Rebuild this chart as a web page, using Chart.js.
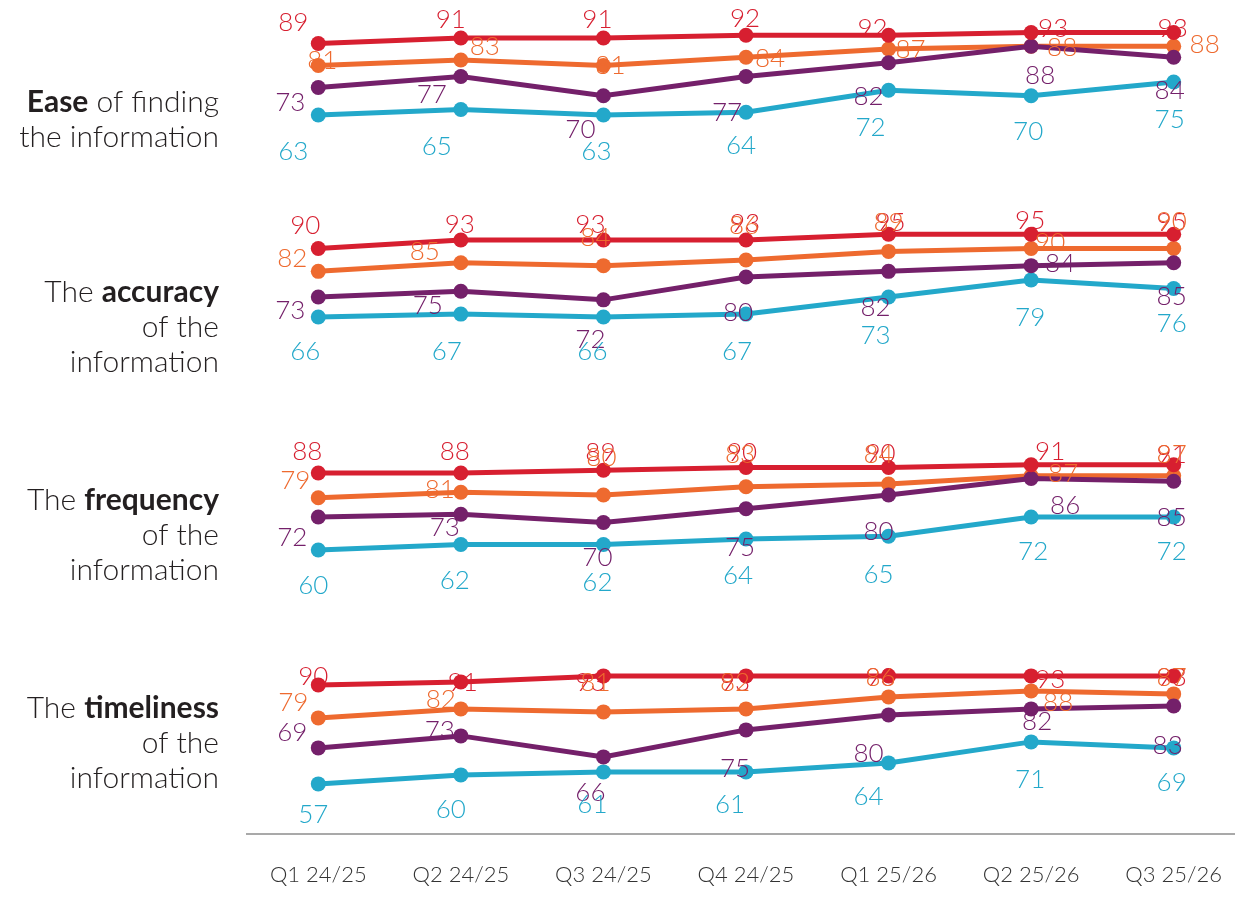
<!DOCTYPE html>
<html>
<head>
<meta charset="utf-8">
<script src="https://cdn.jsdelivr.net/npm/chart.js@4.4.1/dist/chart.umd.min.js"></script>
<style>
  html, body { margin: 0; padding: 0; background: #ffffff; }
  #wrap { width: 1235px; height: 906px; position: relative; }
</style>
</head>
<body>
<div id="wrap"><canvas id="chart" width="1235" height="906"></canvas></div>
<script>
// ---------------- DATA ----------------
const categories = ['Q1 24/25', 'Q2 24/25', 'Q3 24/25', 'Q4 24/25', 'Q1 25/26', 'Q2 25/26', 'Q3 25/26'];

// Panel titles: each line is a list of [text, isBold]
const titleEase       = [[['Ease', true], [' of finding', false]], [['the information', false]]];
const titleAccuracy   = [[['The ', false], ['accuracy', true]], [['of the', false]], [['information', false]]];
const titleFrequency  = [[['The ', false], ['frequency', true]], [['of the', false]], [['information', false]]];
const titleTimeliness = [[['The ', false], ['timeliness', true]], [['of the', false]], [['information', false]]];

// Ease of finding the information
const easeRed    = [89, 91, 91, 92, 92, 93, 93];
const easeOrange = [81, 83, 81, 84, 87, 88, 88];
const easePurple = [73, 77, 70, 77, 82, 88, 84];
const easeTeal   = [63, 65, 63, 64, 72, 70, 75];

// The accuracy of the information
const accuracyRed    = [90, 93, 93, 93, 95, 95, 95];
const accuracyOrange = [82, 85, 84, 86, 89, 90, 90];
const accuracyPurple = [73, 75, 72, 80, 82, 84, 85];
const accuracyTeal   = [66, 67, 66, 67, 73, 79, 76];

// The frequency of the information
const frequencyRed    = [88, 88, 89, 90, 90, 91, 91];
const frequencyOrange = [79, 81, 80, 83, 84, 87, 87];
const frequencyPurple = [72, 73, 70, 75, 80, 86, 85];
const frequencyTeal   = [60, 62, 62, 64, 65, 72, 72];

// The timeliness of the information
const timelinessRed    = [90, 91, 93, 93, 93, 93, 93];
const timelinessOrange = [79, 82, 81, 82, 86, 88, 87];
const timelinessPurple = [69, 73, 66, 75, 80, 82, 83];
const timelinessTeal   = [57, 60, 61, 61, 64, 71, 69];

// ---------------- STYLE ----------------
const seriesColors = ['#D71F30', '#EE6A2F', '#74206A', '#23A8CA'];
const seriesOrder  = [0, 2, 1, 3];

// Data-label nudges (dx, dy in px from each point), per panel, per series [red, orange, purple, teal]
const labelNudgeEase = [
  [[-25,-21],[-10,-18],[-6,-18],[-1,-17],[-16,-7],[22,-4],[-1,-4]],
  [[4,-5],[24,-13],[7,0],[24,1],[22,1],[31,1],[31,-2]],
  [[-28,15],[-29,18],[-23,34],[-19,36],[-20,34],[9,29],[-4,33]],
  [[-25,37],[-24,37],[-7,37],[-5,33],[-18,37],[-3,36],[-4,38]]
];
const labelNudgeAccuracy = [
  [[-13,-23],[-1,-15],[-13,-15],[-1,-16],[2,-12],[-1,-14],[-2,-12]],
  [[-26,-13],[-36,-11],[-8,-28],[-2,-34],[0,-29],[19,-6],[-2,-27]],
  [[-28,14],[-33,14],[-13,40],[-8,36],[-13,36],[29,-2],[-2,34]],
  [[-13,35],[-14,38],[-11,35],[-9,38],[-13,39],[-1,38],[-2,35]]
];
const labelNudgeFrequency = [
  [[-11,-21],[-6,-21],[-3,-18],[-4,-15],[-8,-14],[19,-13],[-2,-10]],
  [[-23,-17],[-21,-3],[-2,-37],[-6,-32],[-10,-29],[32,-2],[-2,-21]],
  [[-26,21],[-16,13],[-6,35],[-6,39],[-10,37],[34,27],[-2,36]],
  [[-5,36],[-6,36],[-6,38],[-8,37],[-10,38],[2,35],[-2,35]]
];
const labelNudgeTimeliness = [
  [[-5,-8],[2,1],[-13,7],[-11,7],[-8,2],[19,4],[-2,2]],
  [[-25,-15],[-20,-9],[-8,-29],[-11,-26],[-8,-19],[27,12],[-2,-16]],
  [[-26,-15],[-21,-5],[-13,36],[-11,39],[-20,39],[6,13],[-6,40]],
  [[-5,31],[-10,35],[-11,33],[-16,33],[-20,34],[-1,38],[-2,35]]
];

const panels = [
  { id: 'yEase',       title: titleEase,       series: [easeRed, easeOrange, easePurple, easeTeal],
    min: 33.9, max: 103.0, stackWeight: 190, layoutWeight: 4, titleShift: 20, nudge: labelNudgeEase },
  { id: 'yAccuracy',   title: titleAccuracy,   series: [accuracyRed, accuracyOrange, accuracyPurple, accuracyTeal],
    min: 35.1, max: 108.8, stackWeight: 210, layoutWeight: 3, titleShift: 27, nudge: labelNudgeAccuracy },
  { id: 'yFrequency',  title: titleFrequency,  series: [frequencyRed, frequencyOrange, frequencyPurple, frequencyTeal],
    min: 36.4, max: 112.7, stackWeight: 210, layoutWeight: 2, titleShift: 25, nudge: labelNudgeFrequency },
  { id: 'yTimeliness', title: titleTimeliness, series: [timelinessRed, timelinessOrange, timelinessPurple, timelinessTeal],
    min: 40.3, max: 113.3, stackWeight: 219, layoutWeight: 1, titleShift: 19, nudge: labelNudgeTimeliness }
];

const FONT = 'Lato, "Open Sans", sans-serif';

// ---------------- DATASETS / SCALES ----------------
const datasets = [];
panels.forEach((p) => {
  p.series.forEach((values, s) => {
    datasets.push({
      data: values.map((v, i) => ({ x: i, y: v })),
      yAxisID: p.id,
      borderColor: seriesColors[s],
      backgroundColor: seriesColors[s],
      pointBackgroundColor: seriesColors[s],
      pointBorderWidth: 0,
      pointRadius: 7.5,
      pointHoverRadius: 7.5,
      borderWidth: 5,
      tension: 0,
      fill: false,
      order: seriesOrder[s],
      labelColor: seriesColors[s],
      labelNudge: p.nudge[s]
    });
  });
});

const scales = {
  x: {
    type: 'linear',
    position: 'bottom',
    min: -0.5,
    max: 6.43,
    afterBuildTicks: (axis) => { axis.ticks = categories.map((_, i) => ({ value: i })); },
    afterFit: (axis) => { axis.height = 72; },
    ticks: {
      autoSkip: false,
      maxRotation: 0,
      padding: 0,
      color: '#333333',
      font: { family: FONT, size: 22, weight: '300' },
      callback: (v) => categories[v]
    },
    grid: { display: false, drawTicks: true, tickLength: 28 },
    border: { display: true, color: '#A9A9A9', width: 2 }
  }
};
panels.forEach((p) => {
  scales[p.id] = {
    type: 'linear',
    position: 'left',
    stack: 'panels',
    stackWeight: p.stackWeight,
    weight: p.layoutWeight,
    min: p.min,
    max: p.max,
    display: false
  };
});

// ---------------- PLUGINS ----------------
const valueLabels = {
  id: 'valueLabels',
  afterDatasetsDraw(chart) {
    const ctx = chart.ctx;
    ctx.save();
    ctx.font = '300 26px ' + FONT;
    ctx.textAlign = 'center';
    ctx.textBaseline = 'middle';
    chart.data.datasets.forEach((ds, di) => {
      const meta = chart.getDatasetMeta(di);
      ctx.fillStyle = ds.labelColor;
      meta.data.forEach((pt, i) => {
        const n = ds.labelNudge[i];
        ctx.fillText(String(ds.data[i].y), pt.x + n[0], pt.y + n[1]);
      });
    });
    ctx.restore();
  }
};

const panelTitles = {
  id: 'panelTitles',
  afterDraw(chart) {
    const ctx = chart.ctx;
    const rightX = 219;
    const lineH = 35;
    ctx.save();
    ctx.fillStyle = '#231F20';
    ctx.textBaseline = 'middle';
    ctx.textAlign = 'left';
    panels.forEach((p) => {
      const sc = chart.scales[p.id];
      const cy = (sc.top + sc.bottom) / 2 + p.titleShift;
      const y0 = cy - (p.title.length - 1) * lineH / 2;
      p.title.forEach((line, li) => {
        const parts = line.map(([t, b]) => {
          ctx.font = (b ? '700 ' : '300 ') + '30px ' + FONT;
          return { t, b, w: ctx.measureText(t).width };
        });
        const total = parts.reduce((a, q) => a + q.w, 0);
        let x = rightX - total;
        parts.forEach((q) => {
          ctx.font = (q.b ? '700 ' : '300 ') + '30px ' + FONT;
          ctx.fillText(q.t, x, y0 + li * lineH);
          x += q.w;
        });
      });
    });
    ctx.restore();
  }
};

new Chart(document.getElementById('chart'), {
  type: 'line',
  data: { datasets },
  options: {
    responsive: false,
    animation: false,
    devicePixelRatio: 1,
    layout: { autoPadding: false, padding: { left: 247, right: 0, top: 5, bottom: 0 } },
    plugins: { legend: { display: false }, tooltip: { enabled: false } },
    scales
  },
  plugins: [valueLabels, panelTitles]
});
</script>
</body>
</html>
